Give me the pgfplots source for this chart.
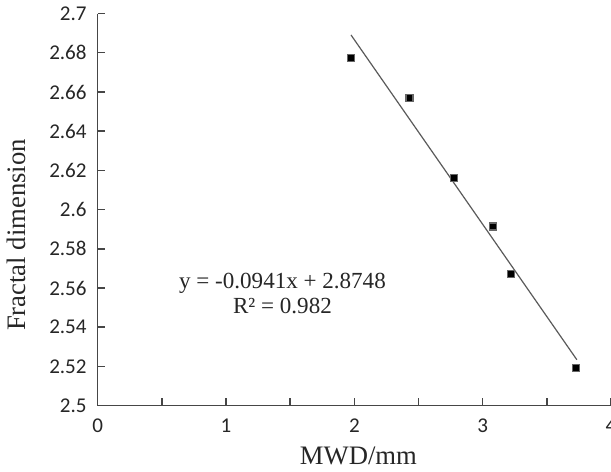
\documentclass[border=0pt]{standalone}
\usepackage{fontspec}
\setmainfont{Liberation Serif}
\newfontfamily\tickfont{Carlito}
\usepackage{pgfplots}
\pgfplotsset{compat=1.18}
\definecolor{axisgray}{RGB}{70,70,70}
\definecolor{fitgray}{RGB}{90,90,90}
\begin{document}
\begin{tikzpicture}[trim axis right]
\begin{axis}[
    scale only axis, width=256pt, height=195.5pt,
    xmin=0, xmax=4, ymin=2.5, ymax=2.7,
    axis x line=bottom, axis y line=left,
    axis line style={-, axisgray, line width=0.8pt},
    xtick={0,1,2,3,4}, minor xtick={0.5,1.5,2.5,3.5},
    ytick={2.5,2.52,...,2.7},
    tick align=inside,
    major tick length=3.8pt, minor tick length=3.8pt,
    tick style={axisgray, line width=0.7pt},
    /pgf/number format/assume math mode=true,
    ticklabel style={font=\tickfont\fontsize{10.5}{12}\selectfont, text=black!85},
    yticklabel style={xshift=-2pt},
    xticklabel style={yshift=-3pt},
    yticklabel style={/pgf/number format/fixed},
    xlabel={MWD/mm}, ylabel={Fractal dimension},
    every axis x label/.style={at={(axis description cs:0.508,0)}, yshift=-25pt, anchor=center,
        font=\fontsize{13.3}{15}\selectfont, text=black!85},
    every axis y label/.style={at={(axis description cs:-0.159,0.435)}, rotate=90, anchor=center,
        font=\fontsize{13.3}{15}\selectfont, text=black!85},
    clip=false,
]
\addplot[only marks, mark=square*, mark size=1.75pt,
    mark options={fill=black, draw=black!60, line width=0.6pt}]
    coordinates {(1.974,2.6775) (2.43,2.657) (2.776,2.616) (3.08,2.5914) (3.219,2.5672) (3.727,2.5193)};
\addplot[fitgray, line width=0.6pt] coordinates {(1.974,2.6891) (3.734,2.5234)};
\node[align=center, font=\fontsize{11.5}{12.5}\selectfont, text=black!85, inner sep=0pt]
    at (axis cs:1.44,2.557) {y = -0.0941x + 2.8748\\R² = 0.982};
\end{axis}
\end{tikzpicture}
\end{document}
